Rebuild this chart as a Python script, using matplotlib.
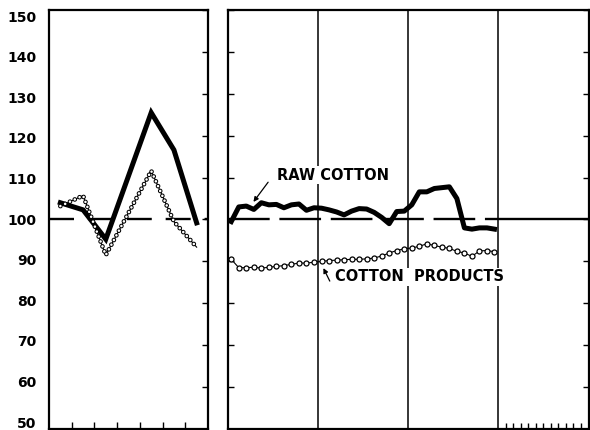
import numpy as np
import matplotlib.pyplot as plt

plt.rcParams['font.family'] = 'DejaVu Sans'
plt.rcParams['lines.scale_dashes'] = False

# left panel: annual figures, 7 years
raw_annual = [104.0, 102.3, 95.3, 110.4, 125.5, 116.6, 99.2]
prod_annual = [103.2, 105.7, 91.5, 101.6, 111.6, 99.5, 93.4]

# right panel: monthly figures, 3 years on a 4 year frame
raw_monthly = [99.5, 103.0, 103.2, 102.4, 104.0, 103.5, 103.6, 102.8, 103.5, 103.7, 102.2, 102.8,
               102.7, 102.3, 101.8, 101.1, 102.0, 102.6, 102.5, 101.7, 100.5, 99.0, 101.9, 102.0,
               103.5, 106.6, 106.6, 107.4, 107.6, 107.8, 105.0, 98.0, 97.7, 98.0, 98.0, 97.7]
prod_monthly = [90.5, 88.5, 88.5, 88.6, 88.4, 88.6, 88.8, 89.0, 89.3, 89.6, 89.6, 89.8,
                90.0, 90.2, 90.3, 90.4, 90.5, 90.5, 90.6, 90.8, 91.3, 92.0, 92.6, 93.0,
                93.2, 93.6, 94.2, 93.8, 93.4, 93.1, 92.4, 92.0, 91.2, 92.5, 92.6, 92.3]

yticks = np.arange(50, 151, 10)
year_pos = np.arange(len(raw_annual)) + 0.5
month_pos = np.arange(len(raw_monthly)) + 0.5

fig = plt.figure(figsize=(5.9, 4.3), dpi=100)
W, H = 590, 430

# separate axis just for the y labels (they are spaced a bit tighter than the ticks)
lab = fig.add_axes([49 / W, 1 / H, 159 / W, 419 / H], frameon=False)
lab.set_ylim(48.3, 151.5)
lab.set_yticks(yticks)
lab.set_xticks([])
lab.tick_params(axis='y', length=0, pad=9, labelsize=10)
for t in lab.get_yticklabels():
    t.set_fontweight('bold')

ax1 = fig.add_axes([49 / W, 1 / H, 159 / W, 419 / H])
ax2 = fig.add_axes([227.5 / W, 1 / H, 361 / W, 419 / H])

for ax in (ax1, ax2):
    ax.set_ylim(50, 150)
    ax.set_yticks(yticks)
    ax.set_yticklabels([])
    for s in ax.spines.values():
        s.set_linewidth(1.6)

# left panel
ax1.set_xlim(0, 7)
ax1.set_xticks(np.arange(1, 7))
ax1.set_xticklabels([])
ax1.tick_params(axis='x', direction='in', length=5, width=1)
ax1.tick_params(axis='y', left=False, right=True, direction='in', length=4.5, width=1)

ax1.axhline(100, color='k', lw=1.7, linestyle=(0, (18, 10)), zorder=1)
ax1.plot(year_pos, raw_annual, color='k', lw=3.6, solid_joinstyle='miter', zorder=3)
# chain of small circles
ax1.plot(year_pos, prod_annual, color='k', lw=0.8, zorder=4)
ax1.plot(year_pos, prod_annual, color='k', lw=3.4, linestyle=(0, (0.01, 3.8)),
         dash_capstyle='round', zorder=4)
ax1.plot(year_pos, prod_annual, color='w', lw=1.9, linestyle=(0, (0.01, 3.8)),
         dash_capstyle='round', zorder=4)

# right panel
ax2.set_xlim(0, 48)
ax2.set_xticks(np.arange(37, 48))
ax2.set_xticklabels([])
ax2.tick_params(axis='x', direction='in', length=4.5, width=1)
ax2.tick_params(axis='y', left=True, right=True, direction='in', length=4.5, width=1)

for x in (12, 24, 36):
    ax2.axvline(x, color='k', lw=1.1, zorder=1)
ax2.hlines(100, 0, 36, color='k', lw=1.7, linestyles=[(0, (30, 7))], zorder=1)
ax2.hlines(100, 36, 48, color='k', lw=1.7, zorder=1)

ax2.plot(month_pos, raw_monthly, color='k', lw=3.6, zorder=3)
ax2.plot(month_pos, prod_monthly, color='k', lw=0.8, marker='o', ms=3.6,
         mfc='white', mec='k', mew=0.9, zorder=4)

box = dict(facecolor='white', edgecolor='none', pad=1)
ax2.text(6.6, 110.6, 'RAW COTTON', fontsize=10.5, fontweight='bold',
         ha='left', va='center', bbox=box, zorder=5)
ax2.annotate('', xy=(3.45, 104.2), xytext=(5.4, 108.9),
             arrowprops=dict(arrowstyle='-|>', color='k', lw=0.9,
                             mutation_scale=7, shrinkA=0, shrinkB=0), zorder=5)
ax2.text(14.3, 86.3, 'COTTON  PRODUCTS', fontsize=10.5, fontweight='bold',
         ha='left', va='center', bbox=box, zorder=5)
ax2.annotate('', xy=(12.75, 88.4), xytext=(13.6, 85.3),
             arrowprops=dict(arrowstyle='-|>', color='k', lw=0.9,
                             mutation_scale=7, shrinkA=0, shrinkB=0), zorder=5)

fig.savefig('out.png', dpi=100)
